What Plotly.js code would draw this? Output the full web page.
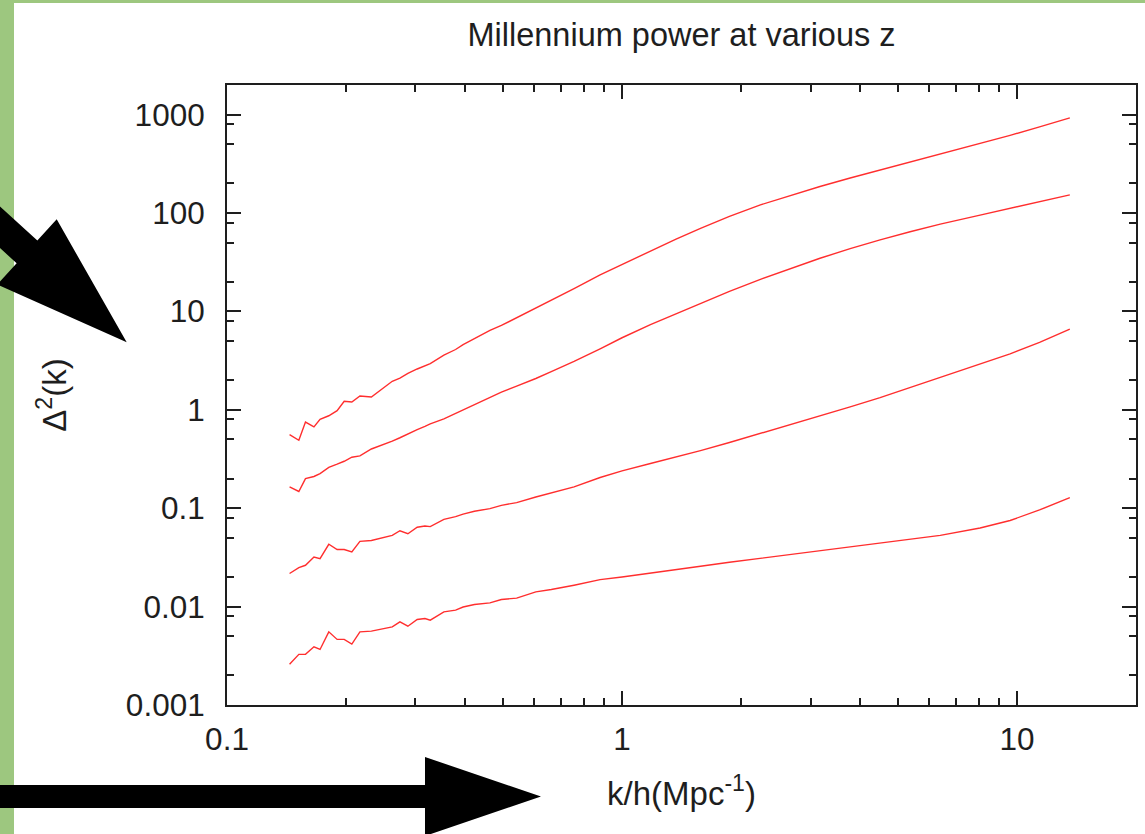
<!DOCTYPE html>
<html>
<head>
<meta charset="utf-8">
<script src="https://cdn.plot.ly/plotly-3.0.1.min.js"></script>
<style>html,body{margin:0;padding:0;background:#9dc77f;}#chart{width:1145px;height:834px;}</style>
</head>
<body>
<div id="chart"></div>
<script>
// ---- data ----
const k = [0.144,0.152,0.158,0.166,0.172,0.181,0.190,0.198,0.207,0.217,0.232,0.248,0.262,0.274,0.287,0.303,0.317,0.327,0.354,0.379,0.396,0.423,0.463,0.495,0.541,0.605,0.662,0.756,0.880,1.0,1.18,1.37,1.58,1.87,2.24,2.66,3.17,3.78,4.50,5.36,6.39,8.06,9.60,11.4,13.6];
const delta_a = [0.56,0.49,0.75,0.67,0.80,0.87,0.98,1.22,1.20,1.38,1.35,1.65,1.95,2.1,2.35,2.6,2.8,2.95,3.6,4.1,4.6,5.3,6.4,7.2,8.6,10.9,13.0,17.0,23.5,30,41.3,54.4,69.9,92.3,121,151,186,227,273,327,394,506,615,751,925];
const delta_b = [0.165,0.148,0.20,0.21,0.225,0.26,0.28,0.30,0.33,0.34,0.40,0.44,0.48,0.52,0.57,0.63,0.68,0.72,0.81,0.92,1.0,1.12,1.34,1.51,1.74,2.08,2.45,3.1,4.17,5.4,7.33,9.5,12.1,16.0,21.2,27.2,34.7,43.4,53.4,64.5,77,95.3,112,130,153];
const delta_c = [0.0217,0.0249,0.0263,0.0319,0.0307,0.043,0.038,0.038,0.036,0.046,0.047,0.050,0.053,0.059,0.055,0.064,0.066,0.065,0.077,0.082,0.087,0.093,0.099,0.107,0.114,0.13,0.143,0.165,0.205,0.24,0.285,0.33,0.385,0.465,0.575,0.70,0.86,1.07,1.33,1.68,2.12,2.9,3.7,4.85,6.6];
const delta_d = [0.00259,0.00327,0.00327,0.0039,0.00367,0.00554,0.00464,0.00464,0.00416,0.00554,0.00563,0.0059,0.00622,0.0070,0.00632,0.0074,0.00757,0.00728,0.00883,0.0092,0.0099,0.0105,0.0109,0.0118,0.0122,0.0141,0.0149,0.0165,0.0188,0.020,0.0218,0.0236,0.0257,0.0282,0.031,0.0339,0.037,0.0404,0.044,0.0483,0.053,0.063,0.075,0.096,0.128];
const seriesList = [delta_a, delta_b, delta_c, delta_d];

const xTickVals = [0.1, 1, 10];
const xTickText = ['0.1', '1', '10'];
const yTickVals = [0.001, 0.01, 0.1, 1, 10, 100, 1000];
const yTickText = ['0.001', '0.01', '0.1', '1', '10', '100', '1000'];
const xMinorVals = [0.2,0.3,0.4,0.5,0.6,0.7,0.8,0.9,2,3,4,5,6,7,8,9];
const yMinorVals = [0.002,0.005,0.008,0.02,0.05,0.08,0.2,0.5,0.8,2,5,8,20,50,80,200,500,800];

// ---- layout geometry ----
const W = 1145, H = 834;
const M = {l: 227, r: 9, t: 85, b: 129};
const PW = W - M.l - M.r, PH = H - M.t - M.b;
const px = x => (x - M.l) / PW;
const py = y => (H - M.b - y) / PH;
function poly(pts) {
  return 'M' + pts.map(p => px(p[0]).toFixed(5) + ',' + py(p[1]).toFixed(5)).join(' L') + ' Z';
}

const FONT = 'Liberation Sans, Arial, Helvetica, sans-serif';
const INK = '#1e1e1e';

const traces = seriesList.map((s, i) => ({
  x: k, y: s, type: 'scatter', mode: 'lines',
  line: {color: '#ff2e2e', width: 1.4},
  showlegend: false, hoverinfo: 'x+y'
}));

const axisCommon = {
  type: 'log', showgrid: false, zeroline: false,
  showline: true, linewidth: 2, linecolor: INK, mirror: 'ticks',
  ticks: 'inside', ticklen: 14, tickwidth: 2, tickcolor: INK,
  tickmode: 'array',
  tickfont: {family: FONT, size: 31.5, color: INK}
};

const layout = {
  width: W, height: H,
  margin: M,
  paper_bgcolor: '#9dc77f',
  plot_bgcolor: '#ffffff',
  showlegend: false,
  title: {
    text: 'Millennium power at various z',
    font: {family: FONT, size: 32.5, color: INK},
    x: 0.5, xref: 'paper', xanchor: 'center',
    y: 1 - 35 / H, yref: 'container', yanchor: 'middle'
  },
  xaxis: Object.assign({}, axisCommon, {
    range: [-1, Math.log10(20)],
    tickvals: xTickVals, ticktext: xTickText,
    ticklabelstandoff: 5,
    minor: {tickmode: 'array', tickvals: xMinorVals, ticks: 'inside', ticklen: 7, tickwidth: 2, tickcolor: INK},
    title: {text: 'k/h(Mpc<sup>-1</sup>)', font: {family: FONT, size: 33, color: INK}, standoff: 26}
  }),
  yaxis: Object.assign({}, axisCommon, {
    range: [-3, Math.log10(2000)],
    tickvals: yTickVals, ticktext: yTickText,
    ticklabelstandoff: 14,
    minor: {tickmode: 'array', tickvals: yMinorVals, ticks: 'inside', ticklen: 7, tickwidth: 2, tickcolor: INK},
    title: {text: '\u0394<sup>2</sup>(k)', font: {family: FONT, size: 33, color: INK}, standoff: 49}
  }),
  shapes: [
    // white sheet over the green backdrop
    {type: 'rect', xref: 'paper', yref: 'paper', layer: 'below',
     x0: px(14), x1: px(W + 10), y0: py(H + 10), y1: py(3),
     fillcolor: '#ffffff', line: {width: 0}},
    // diagonal arrow
    {type: 'path', xref: 'paper', yref: 'paper', layer: 'above',
     path: poly([[126.7,342.3],[56.7,219.3],[37.35,240.4],[-51.6,159.8],[-72.2,182.6],[16.65,263.2],[-2.6,284.5]]),
     fillcolor: '#000000', line: {width: 0}},
    // horizontal arrow
    {type: 'path', xref: 'paper', yref: 'paper', layer: 'above',
     path: poly([[-10,785],[425,785],[425,757],[541,796.5],[425,836],[425,808],[-10,808]]),
     fillcolor: '#000000', line: {width: 0}}
  ]
};

Plotly.newPlot('chart', traces, layout, {displayModeBar: false, staticPlot: true});
</script>
</body>
</html>
